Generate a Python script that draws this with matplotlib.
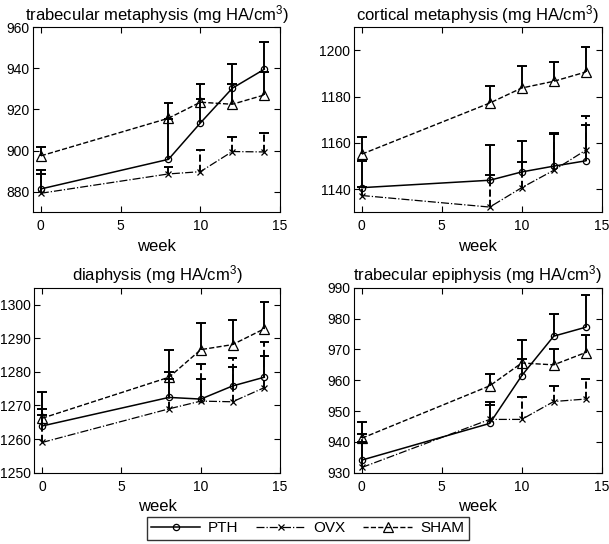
import matplotlib
matplotlib.use("Agg")
import matplotlib.pyplot as plt
import numpy as np

plt.rcParams['font.family'] = ['Liberation Sans', 'DejaVu Sans']
plt.rcParams['mathtext.fontset'] = 'custom'
plt.rcParams['mathtext.rm'] = 'Liberation Sans'
plt.rcParams['mathtext.default'] = 'regular'

weeks = [0, 8, 10, 12, 14]

# trabecular metaphysis
tm_pth = [881.3, 895.7, 913.4, 930.3, 939.5]
tm_pth_top = [890.5, 915.5, 925.0, 942.0, 953.0]
tm_ovx = [879.2, 888.6, 889.7, 899.5, 899.3]
tm_ovx_top = [888.6, 892.0, 900.3, 906.8, 908.4]
tm_sham = [897.4, 915.7, 923.5, 922.5, 927.0]
tm_sham_top = [901.7, 923.3, 932.4, 932.4, 938.0]

# cortical metaphysis
cm_pth = [1140.6, 1143.8, 1147.4, 1149.9, 1152.2]
cm_pth_top = [1152.2, 1159.0, 1160.9, 1164.1, 1167.5]
cm_ovx = [1137.2, 1132.2, 1140.6, 1148.1, 1156.8]
cm_ovx_top = [1141.0, 1146.0, 1151.6, 1163.8, 1171.7]
cm_sham = [1155.1, 1177.2, 1183.7, 1186.6, 1190.6]
cm_sham_top = [1162.4, 1184.5, 1193.2, 1194.9, 1201.6]

# diaphysis
di_pth = [1263.9, 1272.4, 1271.9, 1275.8, 1278.4]
di_pth_top = [1268.9, 1280.0, 1277.8, 1281.3, 1284.6]
di_ovx = [1259.0, 1269.0, 1271.3, 1271.1, 1275.3]
di_ovx_top = [1267.2, 1278.0, 1282.4, 1284.0, 1288.8]
di_sham = [1266.2, 1278.4, 1286.6, 1288.1, 1292.8]
di_sham_top = [1274.0, 1286.4, 1294.5, 1295.3, 1300.7]

# trabecular epiphysis
te_pth = [934.1, 946.0, 961.5, 974.3, 977.2]
te_pth_top = [940.0, 953.0, 967.0, 981.6, 987.6]
te_ovx = [931.7, 947.3, 947.3, 953.1, 953.9]
te_ovx_top = [942.6, 952.0, 954.5, 958.2, 960.4]
te_sham = [941.2, 958.2, 965.6, 965.0, 969.0]
te_sham_top = [946.4, 962.0, 973.0, 970.0, 974.6]

titles = ["trabecular metaphysis (mg HA/cm$^3$)", "cortical metaphysis (mg HA/cm$^3$)",
          "diaphysis (mg HA/cm$^3$)", "trabecular epiphysis (mg HA/cm$^3$)"]
ylims = [(870, 960), (1130, 1210), (1250, 1305), (930, 990)]
yticks = [[880, 900, 920, 940, 960], [1140, 1160, 1180, 1200],
          [1250, 1260, 1270, 1280, 1290, 1300], [930, 940, 950, 960, 970, 980, 990]]

panels = [
    (tm_pth, tm_pth_top, tm_ovx, tm_ovx_top, tm_sham, tm_sham_top),
    (cm_pth, cm_pth_top, cm_ovx, cm_ovx_top, cm_sham, cm_sham_top),
    (di_pth, di_pth_top, di_ovx, di_ovx_top, di_sham, di_sham_top),
    (te_pth, te_pth_top, te_ovx, te_ovx_top, te_sham, te_sham_top),
]

positions = [
    [0.054, 0.610, 0.406, 0.340],
    [0.581, 0.610, 0.407, 0.340],
    [0.056, 0.131, 0.404, 0.340],
    [0.581, 0.131, 0.407, 0.340],
]

fig = plt.figure(figsize=(6.09, 5.44), dpi=100)


def upper_err(ax, x, y, top, ls):
    # one-sided (upper) error bars, as in the original figure
    x = np.array(x, dtype=float)
    ax.vlines(x, y, top, colors='k', linestyles=ls, lw=1.4, zorder=2)
    ax.hlines(top, x - 0.3, x + 0.3, colors='k', linestyles='-', lw=1.4, zorder=2)


handles = []
for i, (pth, pth_top, ovx, ovx_top, sham, sham_top) in enumerate(panels):
    ax = fig.add_axes(positions[i])
    upper_err(ax, weeks, sham, sham_top, '-')
    upper_err(ax, weeks, ovx, ovx_top, '--')
    upper_err(ax, weeks, pth, pth_top, '-')
    h1, = ax.plot(weeks, pth, '-', color='k', lw=1.1, marker='o', ms=4.5,
                  mfc='none', mew=0.9, label='PTH', zorder=3)
    h2, = ax.plot(weeks, ovx, '-.', color='k', lw=0.9, marker='x', ms=5,
                  mew=0.9, label='OVX', zorder=3)
    h3, = ax.plot(weeks, sham, '--', color='k', lw=1.0, marker='^', ms=6.5,
                  mfc='none', mew=0.9, label='SHAM', zorder=3)
    handles = [h1, h2, h3]
    ax.set_xlim(-0.5, 15)
    ax.set_ylim(*ylims[i])
    ax.set_xticks([0, 5, 10, 15])
    ax.set_yticks(yticks[i])
    ax.tick_params(direction='in', top=True, right=True, labelsize=10, length=4, pad=2.5)
    ax.tick_params(axis='x', pad=5)
    ax.set_title(titles[i], fontsize=12, pad=5)
    ax.set_xlabel('week', fontsize=12, labelpad=4)

fig.legend(handles=handles, labels=['PTH', 'OVX', 'SHAM'], ncol=3,
           loc='center', bbox_to_anchor=(0.505, 0.029), fontsize=11,
           frameon=True, fancybox=False, edgecolor='k', handlelength=3.2,
           borderpad=0.3, columnspacing=1.2, handletextpad=0.5)

fig.savefig('out.png', dpi=100)
